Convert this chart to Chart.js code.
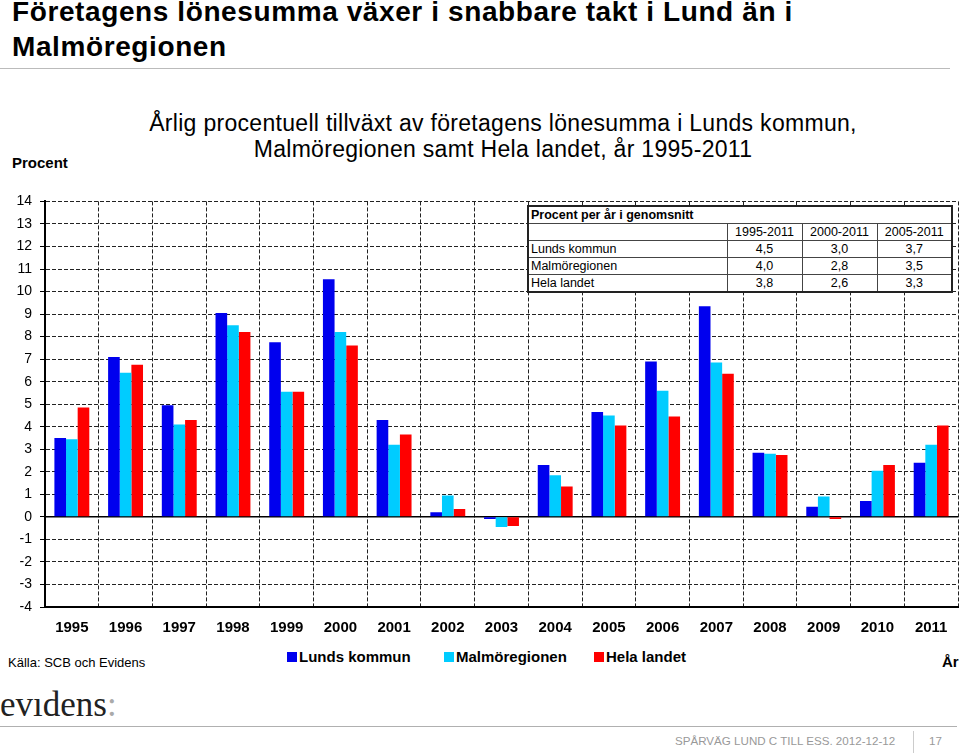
<!DOCTYPE html>
<html>
<head>
<meta charset="utf-8">
<script src="https://cdn.jsdelivr.net/npm/chart.js"></script>
<style>
  html, body { margin: 0; padding: 0; background: #fff; }
  #page { position: relative; width: 960px; height: 754px; overflow: hidden; background: #fff; font-family: Arial, "Liberation Sans", sans-serif; color: #000; }
  .abs { position: absolute; white-space: nowrap; }
  #title { left: 12px; top: -6px; font-size: 28px; line-height: 35px; font-weight: bold; letter-spacing: 0.6px; }
  #titleRule { left: 0; top: 68px; width: 950px; height: 0; border-top: 1.5px solid #bbb; }
  #subtitle { left: 103px; top: 110px; width: 800px; text-align: center; font-size: 23px; line-height: 26px; letter-spacing: 0.3px; }
  #procent { left: 12px; top: 154px; font-size: 15px; line-height: 18px; font-weight: bold; }
  #chartWrap { left: 0; top: 185px; width: 960px; height: 462px; }
  #avgTable { position: absolute; left: 527px; top: 205px; width: 424px; border-collapse: collapse; table-layout: fixed; background: #fff; font-size: 12.5px; border: 2px solid #222; }
  #avgTable td { border: 1px solid #444; height: 16px; padding: 0 2px; line-height: 15px; overflow: hidden; }
  #avgTable td.num { text-align: center; }
  #avgTable td.head { font-weight: bold; }
  #legend { left: 287px; top: 648px; font-size: 15px; line-height: 18px; font-weight: bold; }
  .lg { position: absolute; top: 0; }
  .sw { position: absolute; top: 4px; width: 10px; height: 10px; }
  #kalla { left: 8px; top: 655px; font-size: 13px; line-height: 16px; }
  #ar { left: 942px; top: 653px; font-size: 15px; line-height: 18px; font-weight: bold; }
  #logo { left: 0px; top: 687px; font-family: "Liberation Serif", "DejaVu Serif", serif; font-size: 35px; line-height: 36px; color: #222; }
  #logo span { color: #aaa; }
  #footRule { left: 0; top: 726px; width: 957px; height: 0; border-top: 1px solid #b0b0b0; }
  #footText { left: 675px; top: 734px; font-size: 11.6px; line-height: 14px; color: #999; }
  #footSep { left: 913px; top: 731px; width: 0; height: 22px; border-left: 1px solid #ccc; }
  #pageNo { left: 929px; top: 734px; font-size: 11.6px; line-height: 14px; color: #999; }
</style>
</head>
<body>
<div id="page">
  <div id="title" class="abs">Företagens lönesumma växer i snabbare takt i Lund än i<br>Malmöregionen</div>
  <div id="titleRule" class="abs"></div>
  <div id="subtitle" class="abs">Årlig procentuell tillväxt av företagens lönesumma i Lunds kommun,<br>Malmöregionen samt Hela landet, år 1995-2011</div>
  <div id="procent" class="abs">Procent</div>
  <div id="chartWrap" class="abs"><canvas id="c" width="960" height="462"></canvas></div>
  <table id="avgTable"></table>
  <div id="legend" class="abs"></div>
  <div id="kalla" class="abs">Källa: SCB och Evidens</div>
  <div id="ar" class="abs">År</div>
  <div id="logo" class="abs">evıdens<span>:</span></div>
  <div id="footRule" class="abs"></div>
  <div id="footText" class="abs">SPÅRVÄG LUND C TILL ESS. 2012-12-12</div>
  <div id="footSep" class="abs"></div>
  <div id="pageNo" class="abs">17</div>
</div>
<script>
// ---- Data ----
const years = ['1995','1996','1997','1998','1999','2000','2001','2002','2003','2004','2005','2006','2007','2008','2009','2010','2011'];
const lundsKommun  = [3.5, 7.1, 4.95, 9.05, 7.75, 10.55, 4.3, 0.2, -0.1, 2.3, 4.65, 6.9, 9.35, 2.85, 0.45, 0.7, 2.4];
const malmoregionen = [3.45, 6.4, 4.1, 8.5, 5.55, 8.2, 3.2, 0.95, -0.45, 1.85, 4.5, 5.6, 6.85, 2.8, 0.9, 2.05, 3.2];
const helaLandet   = [4.85, 6.75, 4.3, 8.2, 5.55, 7.6, 3.65, 0.35, -0.4, 1.35, 4.05, 4.45, 6.35, 2.75, -0.1, 2.3, 4.05];
const seriesNames = ['Lunds kommun', 'Malmöregionen', 'Hela landet'];
const seriesColors = ['#0000ee', '#00ccff', '#ff0000'];
const yMin = -4, yMax = 14;

const tableTitle = 'Procent per år i genomsnitt';
const tablePeriods = ['1995-2011', '2000-2011', '2005-2011'];
const tableRowNames = ['Lunds kommun', 'Malmöregionen', 'Hela landet'];
const tableLund = ['4,5', '3,0', '3,7'];
const tableMalmo = ['4,0', '2,8', '3,5'];
const tableHela = ['3,8', '2,6', '3,3'];

// ---- Table ----
(function buildTable() {
  const t = document.getElementById('avgTable');
  let html = '<colgroup><col style="width:199px"><col style="width:75px"><col style="width:75px"><col style="width:75px"></colgroup>';
  html += '<tr><td class="head" colspan="4">' + tableTitle + '</td></tr>';
  html += '<tr><td></td>' + tablePeriods.map(p => '<td class="num">' + p + '</td>').join('') + '</tr>';
  const rows = [tableLund, tableMalmo, tableHela];
  rows.forEach((r, i) => {
    html += '<tr><td>' + tableRowNames[i] + '</td>' + r.map(v => '<td class="num">' + v + '</td>').join('') + '</tr>';
  });
  t.innerHTML = html;
})();

// ---- Legend ----
(function buildLegend() {
  const lg = document.getElementById('legend');
  const offsets = [0, 157, 307];
  seriesNames.forEach((n, i) => {
    const d = document.createElement('div');
    d.className = 'lg';
    d.style.left = offsets[i] + 'px';
    d.innerHTML = '<div class="sw" style="left:0;background:' + seriesColors[i] + '"></div><span style="position:relative;left:12px">' + n + '</span>';
    lg.appendChild(d);
  });
})();

// ---- Chart ----
const zeroLine = {
  id: 'zeroLine',
  beforeDatasetsDraw(chart) {
    const {ctx, chartArea, scales} = chart;
    const y = scales.y.getPixelForValue(0);
    ctx.save();
    ctx.strokeStyle = '#000';
    ctx.lineWidth = 1.5;
    ctx.beginPath();
    ctx.moveTo(chartArea.left, y);
    ctx.lineTo(chartArea.right, y);
    ctx.stroke();
    ctx.restore();
  }
};

new Chart(document.getElementById('c'), {
  type: 'bar',
  data: {
    labels: years,
    datasets: [
      { label: seriesNames[0], data: lundsKommun, backgroundColor: seriesColors[0] },
      { label: seriesNames[1], data: malmoregionen, backgroundColor: seriesColors[1] },
      { label: seriesNames[2], data: helaLandet, backgroundColor: seriesColors[2] }
    ]
  },
  options: {
    responsive: false,
    animation: false,
    devicePixelRatio: 1,
    layout: { padding: { left: 0, right: 2, top: 14, bottom: 0 } },
    datasets: { bar: { categoryPercentage: 0.65, barPercentage: 1.0, borderWidth: 0 } },
    plugins: { legend: { display: false }, tooltip: { enabled: false } },
    scales: {
      x: {
        offset: true,
        afterFit: s => { s.height = 40; },
        grid: { offset: true, color: '#222', lineWidth: 1, drawTicks: false },
        border: { display: true, color: '#000', width: 2, dash: [4, 2] },
        ticks: { color: '#000', font: { family: 'Arial, "Liberation Sans", sans-serif', size: 15, weight: 'bold' }, padding: 12, maxRotation: 0, autoSkip: false }
      },
      y: {
        min: yMin, max: yMax,
        afterFit: s => { s.width = 45; },
        grid: { color: '#222', lineWidth: 1, drawTicks: true, tickLength: 5, tickColor: '#000', tickBorderDash: [] },
        border: { display: true, color: '#000', width: 2, dash: [4, 2] },
        ticks: { stepSize: 1, color: '#000', font: { family: 'Arial, "Liberation Sans", sans-serif', size: 14 }, padding: 8 }
      }
    }
  },
  plugins: [zeroLine]
});
</script>
</body>
</html>
